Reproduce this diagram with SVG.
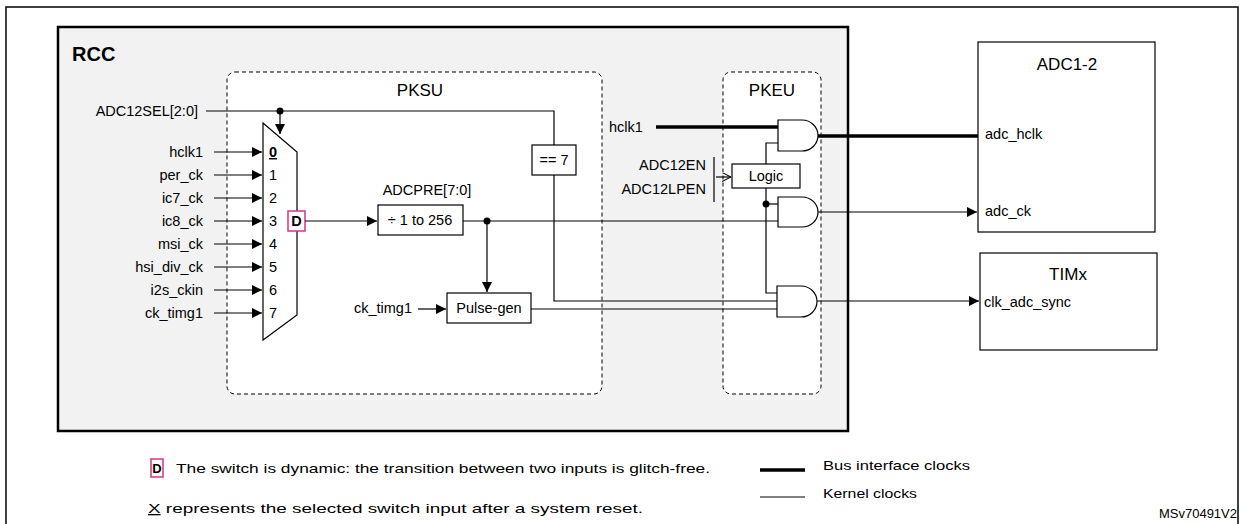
<svg xmlns="http://www.w3.org/2000/svg" width="1242" height="524" viewBox="0 0 1242 524">
<style>
text{font-family:"Liberation Sans",Arial,sans-serif;font-size:14.5px;fill:#000}
.r{text-anchor:end}.m{text-anchor:middle}
.ln{stroke:#000;stroke-width:1.2;fill:none}
.bus{stroke:#000;stroke-width:3.5;fill:none}
.box{stroke:#000;stroke-width:1.2;fill:#fff}
.dash{stroke:#000;stroke-width:1;stroke-dasharray:4,3;fill:#fff}
.big{font-size:17px}
.lg{font-size:13px}
</style>
<defs>
<marker id="a" viewBox="0 0 10 10" refX="10" refY="5" markerWidth="10" markerHeight="10" markerUnits="userSpaceOnUse" orient="auto"><path d="M0,0L10,5L0,10z" fill="#000"/></marker>
<marker id="o" viewBox="0 0 10 10" refX="10" refY="5" markerWidth="9" markerHeight="9" markerUnits="userSpaceOnUse" orient="auto"><path d="M0,0L10,5L0,10" fill="none" stroke="#000" stroke-width="1.2"/></marker>
</defs>
<rect x="0" y="0" width="1242" height="524" fill="#fff"/>
<rect x="6" y="7" width="1232" height="530" fill="none" stroke="#000" stroke-width="1.5"/>
<g id="rcc">
<rect x="58" y="27" width="790" height="404" fill="#f2f2f2" stroke="#000" stroke-width="2.5"/>
<text x="72" y="61" style="font-size:20px;font-weight:bold">RCC</text>
</g>
<g id="pksu"><rect class="dash" x="227" y="72" width="375" height="322" rx="8"/><text class="m big" x="420" y="96">PKSU</text></g>
<g id="pkeu"><rect class="dash" x="723" y="72" width="98" height="322" rx="8"/><text class="m big" x="772" y="96">PKEU</text></g>
<g id="adc"><rect class="box" x="978" y="42" width="177" height="190"/><text class="m big" x="1067" y="70">ADC1-2</text><text x="985" y="139">adc_hclk</text><text x="985" y="216">adc_ck</text></g>
<g id="timx"><rect class="box" x="980" y="253" width="177" height="97"/><text class="m big" x="1068" y="280">TIMx</text><text x="984" y="307">clk_adc_sync</text></g>
<g id="mux">
<path class="box" d="M263,123L297,152L297,315L263,340Z"/>
<text x="269" y="157" style="font-weight:bold;text-decoration:underline">0</text>
<text x="269" y="180">1</text><text x="269" y="203">2</text><text x="269" y="226">3</text><text x="269" y="249">4</text><text x="269" y="272">5</text><text x="269" y="295">6</text><text x="269" y="318">7</text>
<rect x="288" y="211" width="17" height="20" fill="#fff" stroke="#d63384" stroke-width="1.5"/>
<text class="m" x="296.5" y="226" style="font-weight:bold">D</text>
</g>
<g id="inputs">
<text class="r" x="203" y="157">hclk1</text><text class="r" x="203" y="180">per_ck</text><text class="r" x="203" y="203">ic7_ck</text><text class="r" x="203" y="226">ic8_ck</text><text class="r" x="203" y="249">msi_ck</text><text class="r" x="203" y="272">hsi_div_ck</text><text class="r" x="203" y="295">i2s_ckin</text><text class="r" x="203" y="318">ck_timg1</text>
<text class="r" x="198" y="116">ADC12SEL[2:0]</text>
</g>
<g id="eq7"><rect class="box" x="532" y="145" width="44" height="30"/><text class="m" x="554" y="165">== 7</text></g>
<g id="div"><text class="m" x="427" y="195">ADCPRE[7:0]</text><rect class="box" x="378" y="205" width="85" height="30"/><text class="m" x="420" y="225">÷ 1 to 256</text></g>
<g id="pulse"><text class="r" x="412" y="313">ck_timg1</text><rect class="box" x="447" y="293" width="84" height="30"/><text class="m" x="489" y="313">Pulse-gen</text></g>
<g id="logic"><text class="r" x="706" y="170">ADC12EN</text><text class="r" x="706" y="194">ADC12LPEN</text><rect class="box" x="732" y="164" width="68" height="24"/><text class="m" x="766" y="181">Logic</text></g>
<text x="609" y="132">hclk1</text>
<g id="gates">
<path class="box" d="M778,120H802A16,15.5 0 0 1 802,151H778Z"/>
<path class="box" d="M778,197H802A16,15 0 0 1 802,227H778Z"/>
<path class="box" d="M777,286H801A16,15.5 0 0 1 801,317H777Z"/>
</g>
<g id="connectors">
<path class="ln" d="M214,152H262" marker-end="url(#a)"/><path class="ln" d="M214,175H262" marker-end="url(#a)"/><path class="ln" d="M214,198H262" marker-end="url(#a)"/><path class="ln" d="M214,221H262" marker-end="url(#a)"/><path class="ln" d="M214,244H262" marker-end="url(#a)"/><path class="ln" d="M214,267H262" marker-end="url(#a)"/><path class="ln" d="M214,290H262" marker-end="url(#a)"/><path class="ln" d="M214,313H262" marker-end="url(#a)"/>
<path class="ln" d="M206,111H554V145"/><path class="ln" d="M554,175V301H777"/>
<path class="ln" d="M280,111V134" marker-end="url(#a)"/><circle cx="280" cy="111" r="3.5"/>
<path class="ln" d="M305,221H377" marker-end="url(#a)"/>
<path class="ln" d="M463,221H778"/><circle cx="487" cy="221" r="3.5"/>
<path class="ln" d="M487,221V292" marker-end="url(#a)"/>
<path class="ln" d="M418,309H446" marker-end="url(#a)"/>
<path class="ln" d="M531,309H777"/>
<path class="bus" d="M656,127H778"/>
<path class="bus" d="M818,136H978"/>
<path class="ln" d="M714,157V202"/><path class="ln" d="M716,177H731" marker-end="url(#o)"/>
<path class="ln" d="M766,164V143H778"/><path class="ln" d="M766,188V293H777"/><path class="ln" d="M766,204H778"/><circle cx="766" cy="204" r="3.5"/>
<path class="ln" d="M818,212H977" marker-end="url(#a)"/>
<path class="ln" d="M817,301H979" marker-end="url(#a)"/>
</g>
<g id="legend">
<rect x="151" y="459" width="12" height="18" fill="#fff" stroke="#d63384" stroke-width="1.5"/>
<text class="m lg" x="157" y="473" style="font-weight:bold">D</text>
<text class="lg" x="176" y="473" textLength="534" lengthAdjust="spacingAndGlyphs">The switch is dynamic: the transition between two inputs is glitch-free.</text>
<text class="lg" x="148" y="513" textLength="495" lengthAdjust="spacingAndGlyphs"><tspan text-decoration="underline">X</tspan> represents the selected switch input after a system reset.</text>
<path class="bus" d="M760,470H805"/><text class="lg" x="823" y="470" textLength="147" lengthAdjust="spacingAndGlyphs">Bus interface clocks</text>
<path class="ln" d="M760,497H805"/><text class="lg" x="823" y="498" textLength="94" lengthAdjust="spacingAndGlyphs">Kernel clocks</text>
<text class="r lg" x="1237" y="518">MSv70491V2</text>
</g>
</svg>
